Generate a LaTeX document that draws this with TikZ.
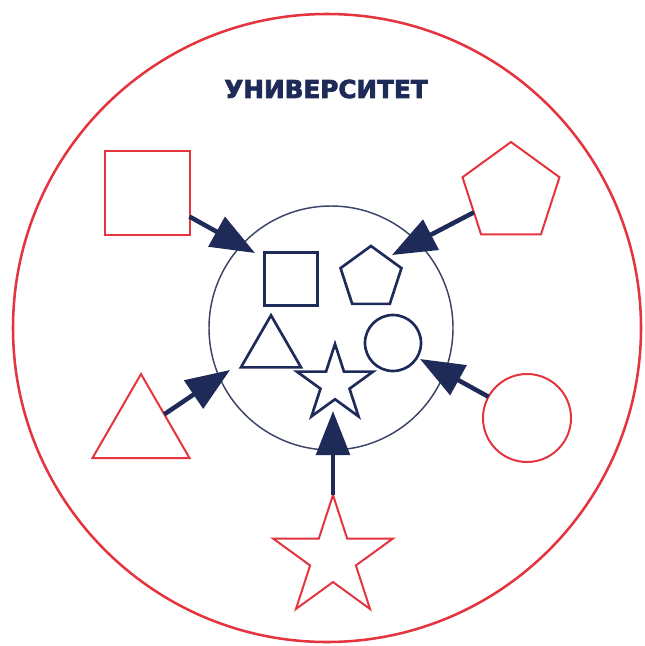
\documentclass[tikz,border=0pt]{standalone}
\usepackage{fontspec}
\newfontfamily\titlefont[FakeBold=3]{DejaVu Sans Bold}
\usetikzlibrary{shapes.geometric,arrows.meta}
\definecolor{ured}{RGB}{228,52,62}
\definecolor{unavy}{RGB}{30,42,88}
\definecolor{ugrey}{RGB}{60,68,102}
\tikzset{
  redshape/.style={draw=ured,line width=1.5pt,inner sep=0pt,outer sep=0pt},
  navyshape/.style={draw=unavy,line width=2pt,inner sep=0pt,outer sep=0pt},
  joinarrow/.style={draw=unavy,line width=3.4pt,-{Triangle[length=33pt,width=25pt]}},
  fivestar/.style={star,star points=5,star point ratio=2.618},
}
\begin{document}
\begin{tikzpicture}[x=0.75pt,y=-0.75pt]
\useasboundingbox (0,0) rectangle (644,646);
% circles
\node[draw=ured,line width=1.9pt,circle,minimum size=471pt,inner sep=0pt] (outer) at (327,328) {};
\node[draw=ugrey,line width=1.1pt,circle,minimum size=183pt,inner sep=0pt] (inner) at (331,328) {};
% title
\node[text=unavy,font=\titlefont\fontsize{18.5}{20}\selectfont] (title) at (326,89) {УНИВЕРСИТЕТ};
% red outer shapes
\node[redshape,rectangle,minimum width=63.75pt,minimum height=63pt] (rsq) at (147,193) {};
\node[redshape,regular polygon,regular polygon sides=5,minimum size=76.5pt] (rpent) at (511,193) {};
\node[redshape,regular polygon,regular polygon sides=3,minimum size=84pt] (rtri) at (141,430) {};
\node[redshape,circle,minimum size=66pt] (rcirc) at (527,418) {};
\node[redshape,fivestar,minimum size=94.5pt] (rstar) at (333,558) {};
% navy inner shapes
\node[navyshape,rectangle,minimum size=39.75pt] (nsq) at (291,279) {};
\node[navyshape,regular polygon,regular polygon sides=5,minimum size=48pt] (npent) at (371,278) {};
\node[navyshape,regular polygon,regular polygon sides=3,minimum size=52pt] (ntri) at (271,350) {};
\node[navyshape,circle,minimum size=42pt] (ncirc) at (393,343) {};
\node[navyshape,fivestar,minimum size=60pt] (nstar) at (335,384) {};
% arrow tips
\coordinate (t1) at (255,253);
\coordinate (t2) at (392,255);
\coordinate (t3) at (230,370);
\coordinate (t4) at (420,359);
\coordinate (t5) at (333,411);
\draw[joinarrow] (rsq) -- (t1);
\draw[joinarrow] (rpent) -- (t2);
\draw[joinarrow] (rtri) -- (t3);
\draw[joinarrow] (rcirc) -- (t4);
\draw[joinarrow] (rstar) -- (t5);
\end{tikzpicture}
\end{document}
